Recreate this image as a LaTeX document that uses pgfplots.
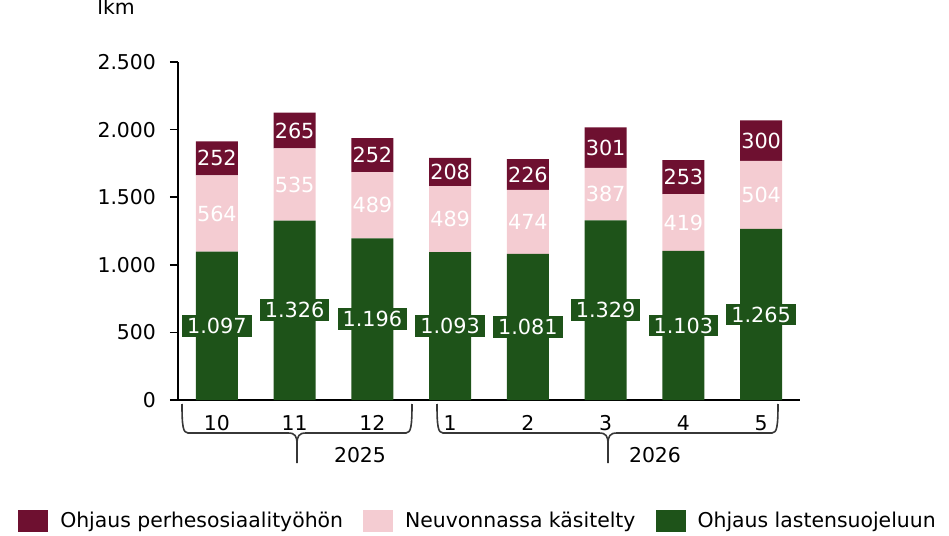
\documentclass[border=0pt]{standalone}
\usepackage{fontspec}
\setmainfont{DejaVu Sans}
\usepackage{pgfplots}
\pgfplotsset{compat=1.18}
\usepackage{pgfplotstable}

\definecolor{cgreen}{RGB}{30,83,25}
\definecolor{cpink}{RGB}{244,204,210}
\definecolor{cred}{RGB}{110,16,48}
\definecolor{cbrace}{RGB}{55,55,55}

\pgfplotstableread{
x g p r
0 1097 564 252
1 1326 535 265
2 1196 489 252
3 1093 489 208
4 1081 474 226
5 1329 387 301
6 1103 419 253
7 1265 504 300
}\datatable

\newcommand{\yearbrace}[3]{%
  \draw[cbrace, line width=0.8pt] (#1,-2pt) .. controls (#1,-13pt) and ([xshift=0.5pt]#1,-16.5pt) .. ([xshift=3pt]#1,-16.5pt)
     -- ([xshift=-4.5pt]#2,-16.5pt) .. controls ([xshift=-1pt]#2,-16.5pt) and (#2,-18pt) .. (#2,-22pt) -- (#2,-31.5pt);
  \draw[cbrace, line width=0.8pt] (#3,-2pt) .. controls (#3,-13pt) and ([xshift=-0.5pt]#3,-16.5pt) .. ([xshift=-3pt]#3,-16.5pt)
     -- ([xshift=4.5pt]#2,-16.5pt) .. controls ([xshift=1pt]#2,-16.5pt) and (#2,-18pt) .. (#2,-22pt);
}

\pgfplotsset{
  /pgf/number format/assume math mode=true,
  /pgf/number format/1000 sep={.},
  common/.style={scale only axis, width=311pt, height=169pt, at={(0,0)}, anchor=south west,
    xmin=-0.5, xmax=7.5, ymin=0, ymax=2500, clip=false},
  lbl/.style={draw=none, mark=none, nodes near coords, point meta=explicit,
    every node near coord/.append style={anchor=center, text=white, font=\fontsize{10.4}{12}\selectfont}},
}

\begin{document}
\begin{tikzpicture}[font=\fontsize{10.2}{12}\selectfont]
\useasboundingbox (-89pt,-68pt) rectangle (385.5pt,200pt);
\begin{axis}[common,
  ybar stacked, bar width=21pt,
  axis lines*=left, axis line style={line width=0.8pt},
  ytick={0,500,...,2500},
  xtick=data, xticklabels={10,11,12,1,2,3,4,5},
  x tick style={draw=none},
  xticklabel style={text height=7.5pt, text depth=0pt},
  y tick style={line width=0.8pt, black},
  yticklabel style={xshift=-3.5pt},
  tick align=outside, major tick length=4pt,
  reverse legend,
  legend columns=3,
  legend style={draw=none, at={(0.4807,-0.358)}, anchor=center,
    /tikz/every odd column/.append style={column sep=6pt},
    /tikz/every even column/.append style={column sep=10pt},
    nodes={inner xsep=0pt, inner ysep=2pt}},
  legend image code/.code={\path[#1] (0pt,-5.5pt) rectangle (15pt,5.5pt);},
]
\addplot[fill=cgreen, draw=none] table[x=x, y=g] {\datatable};
\addlegendentry{Ohjaus lastensuojeluun}
\addplot[fill=cpink, draw=none] table[x=x, y=p] {\datatable};
\addlegendentry{Neuvonnassa käsitelty}
\addplot[fill=cred, draw=none] table[x=x, y=r] {\datatable};
\addlegendentry{Ohjaus perhesosiaalityöhön}
\end{axis}
\begin{axis}[common, hide axis]
\addplot[lbl, every node near coord/.append style={fill=cgreen, inner xsep=2.5pt, inner ysep=1.5pt}]
  table[x=x, y expr=\thisrow{g}/2, meta=g] {\datatable};
\addplot[lbl] table[x=x, y expr=\thisrow{g}+\thisrow{p}/2, meta=p] {\datatable};
\addplot[lbl] table[x=x, y expr=\thisrow{g}+\thisrow{p}+\thisrow{r}/2, meta=r] {\datatable};
\end{axis}
\node[anchor=west, inner sep=0] at (-40.5pt,196.5pt) {lkm};
\yearbrace{2pt}{59.5pt}{117pt}
\yearbrace{129.5pt}{215pt}{300pt}
\node at (91pt,-27.5pt) {2025};
\node at (238.5pt,-27.5pt) {2026};
\end{tikzpicture}
\end{document}
